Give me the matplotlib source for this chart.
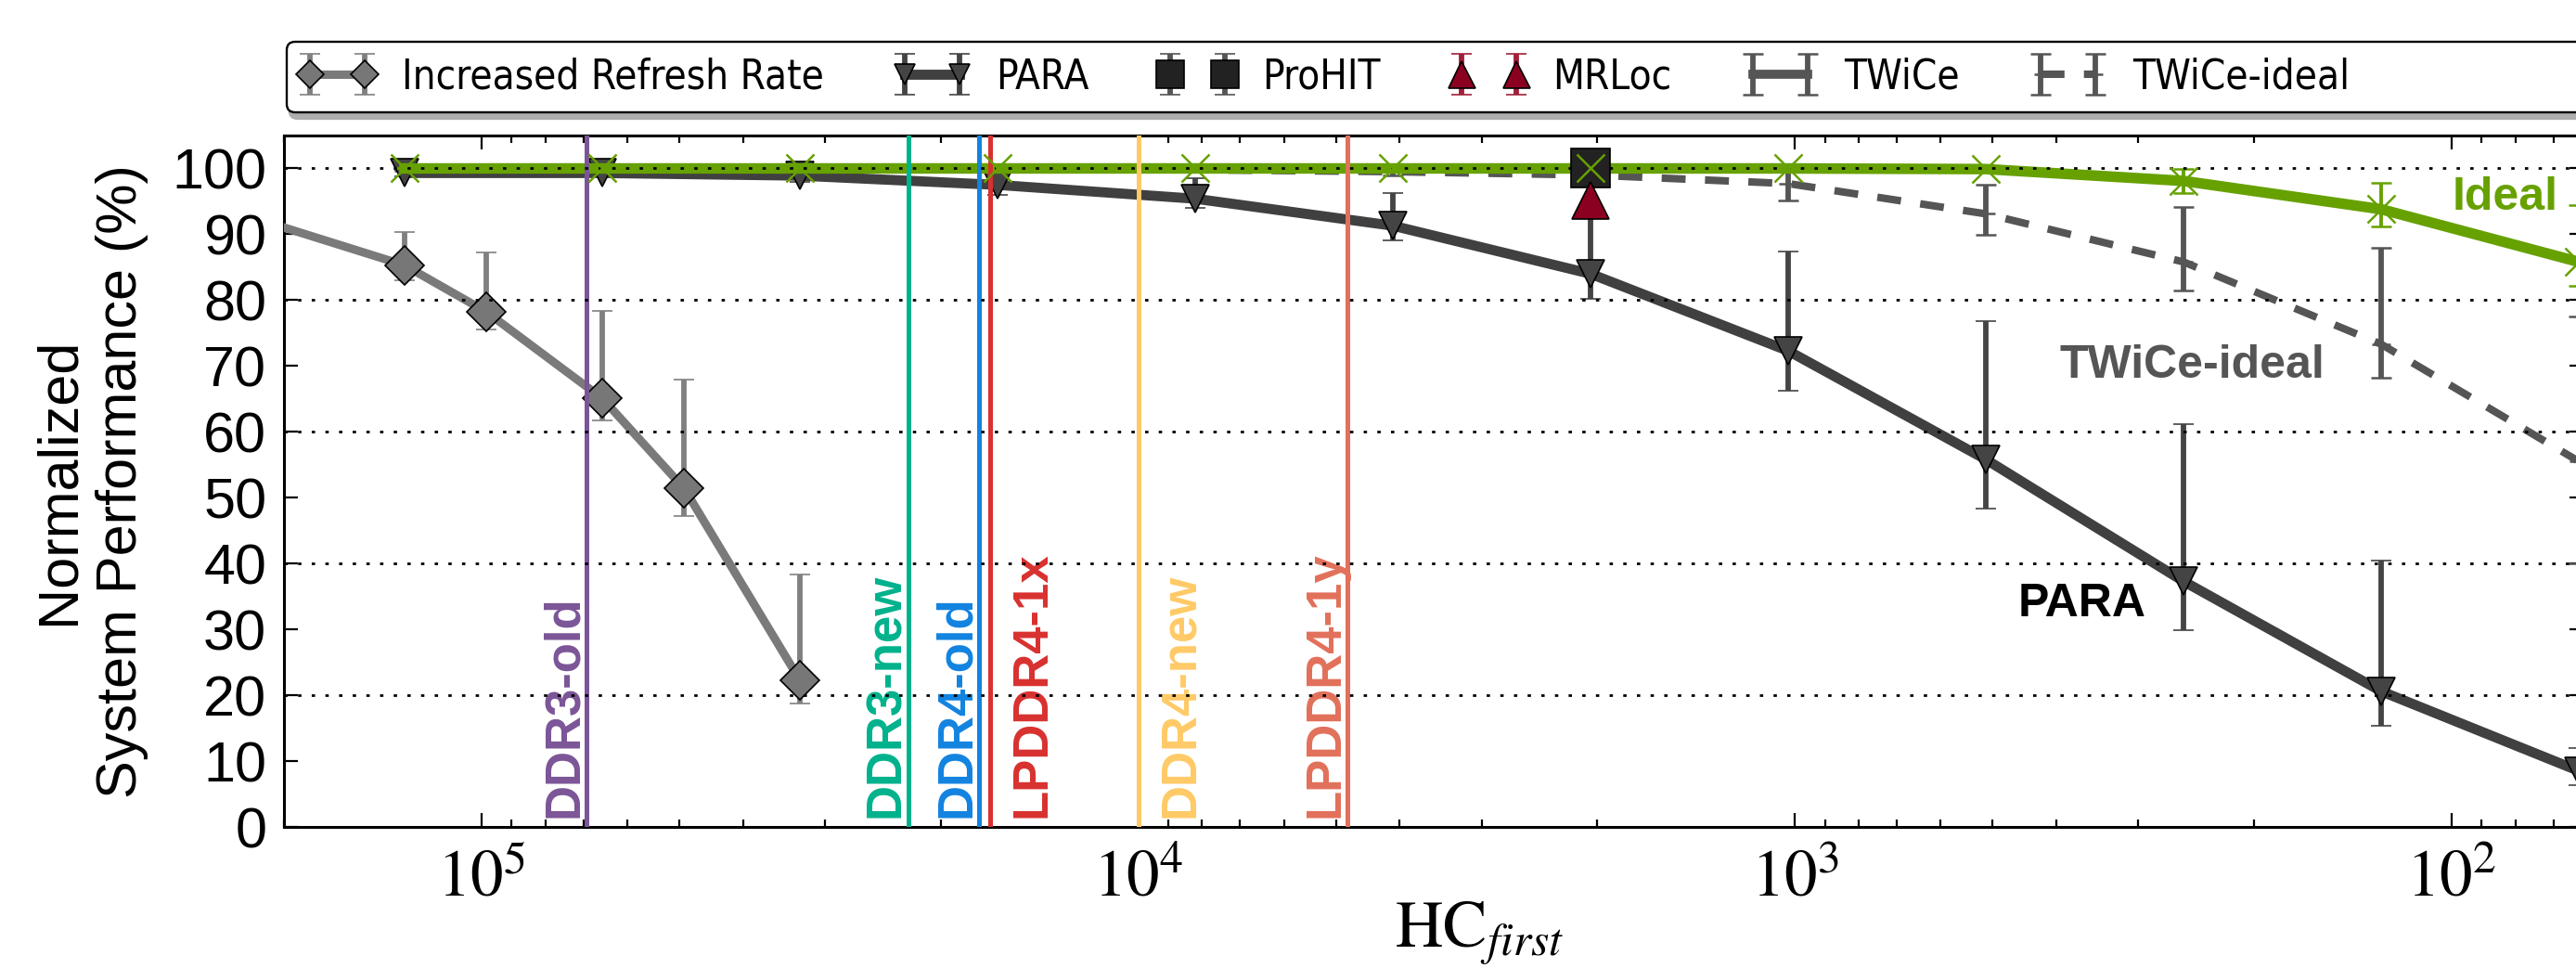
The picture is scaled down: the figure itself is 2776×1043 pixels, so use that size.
import numpy as np
import matplotlib
matplotlib.use('Agg')
import matplotlib.pyplot as plt
from matplotlib import font_manager
from matplotlib.font_manager import FontProperties
from matplotlib.patches import FancyBboxPatch, Shadow
from matplotlib.transforms import IdentityTransform
from matplotlib.ticker import FixedLocator, FuncFormatter, NullFormatter, LogLocator

# HC_first values on the x axis
hc = [131072, 65536, 32768, 16384, 8192, 4096, 2048, 1024, 512, 256, 128, 64]

# increased refresh rate
irr_x = [262144, 131072, 98304, 65536, 49152, 32768]
irr_y = [94.7, 85.3, 78.2, 65.1, 51.4, 22.3]
irr_hi = [97.0, 90.4, 87.3, 78.4, 67.9, 38.3]
irr_lo = [92.5, 83.0, 75.6, 61.7, 47.2, 18.7]

# PARA
para_y = [99.3, 99.3, 98.9, 97.5, 95.4, 91.3, 84.0, 72.3, 55.8, 37.3, 20.6, 8.5]
para_hi = [99.8, 99.8, 100.2, 99.0, 98.5, 96.3, 94.0, 87.4, 76.8, 61.1, 40.4, 12.0]
para_lo = [98.8, 98.8, 98.0, 96.0, 94.0, 89.1, 80.2, 66.2, 48.3, 29.9, 15.4, 6.3]

# ideal (no mitigation)
ideal_y = [100, 100, 100, 100, 100, 100, 100, 100, 99.9, 98.1, 93.8, 85.8]
ideal_hi = [100, 100, 100, 100, 100, 100, 100, 100, 100.2, 99.9, 97.8, 94.5]
ideal_lo = [100, 100, 100, 100, 100, 100, 100, 100, 99.5, 96.2, 91.2, 82.1]

# TWiCe
twice_x = [131072, 65536, 32768, 16384, 8192, 4096, 2048]
twice_y = [100, 100, 100, 100, 100, 100, 100]
twice_hi = [100, 100, 100, 100, 100, 100, 100]
twice_lo = [100, 100, 100, 100, 100, 99.6, 98.0]

# TWiCe-ideal
twid_y = [99.8, 99.8, 99.8, 99.8, 99.8, 99.5, 99.0, 97.7, 93.1, 85.8, 73.3, 55.5]
twid_hi = [100, 100, 100, 100, 100, 100, 99.9, 99.9, 97.6, 94.1, 88.0, 77.5]
twid_lo = [99.6, 99.6, 99.6, 99.6, 99.6, 99.0, 98.5, 95.1, 89.9, 81.4, 68.2, 40.0]

# ProHIT / MRLoc (single point)
prohit_x, prohit_y, prohit_hi, prohit_lo = [2048], [100.0], [100.4], [99.6]
mrloc_x, mrloc_y, mrloc_hi, mrloc_lo = [2048], [95.1], [97.6], [93.0]

# HC_first of the chip types
chips = ['DDR3-old', 'DDR3-new', 'DDR4-old', 'LPDDR4-1x', 'DDR4-new', 'LPDDR4-1y']
chip_hc = [69200, 22400, 17500, 16800, 10000, 4800]
chip_colors = ['#7b5597', '#00b28c', '#1283e0', '#d8312f', '#ffca66', '#e2705a']
label_right = [False, False, False, True, True, False]


def err(y, lo, hi):
    y = np.asarray(y, float)
    return [y - np.asarray(lo), np.asarray(hi) - y]


# fonts
fonts = font_manager.fontManager.ttflist
names = {f.name for f in fonts}
narrow = 'Liberation Sans Narrow' if 'Liberation Sans Narrow' in names else 'Liberation Sans'
if 'DejaVu Sans Condensed' in names:
    leg_font = FontProperties(family='DejaVu Sans Condensed', size=31.5)
elif any(f.name == 'DejaVu Sans' and f.stretch == 'condensed' for f in fonts):
    leg_font = FontProperties(family='DejaVu Sans', stretch='condensed', size=31.5)
else:
    leg_font = FontProperties(family=narrow, size=34)
is_narrow = narrow.endswith('Narrow')
bold = FontProperties(family=narrow, weight='bold', size=43 if is_narrow else 36)
chip_font = FontProperties(family=narrow, weight='bold', size=45.5 if is_narrow else 38)

plt.rcParams['font.family'] = ['Liberation Sans', 'DejaVu Sans']
plt.rcParams['mathtext.fontset'] = 'stix'
plt.rcParams['axes.linewidth'] = 2.2

W, H = 2776, 1043
fig = plt.figure(figsize=(W / 100, H / 100), dpi=100)
ax = fig.add_axes([306 / W, (H - 891) / H, (2784 - 306) / W, (891 - 146) / H])

ekw = dict(capsize=8, capthick=1.8, elinewidth=4.2)

irr = ax.errorbar(irr_x, irr_y, yerr=err(irr_y, irr_lo, irr_hi), fmt='-D', color='#7a7a7a',
                  lw=6.5, ms=21, mfc='#777777', mec='black', mew=1.2, ecolor='#808080',
                  label='Increased Refresh Rate', zorder=3, **ekw)
para = ax.errorbar(hc, para_y, yerr=err(para_y, para_lo, para_hi), fmt='-v', color='#404040',
                   lw=7.8, ms=22, mfc='#444444', mec='black', mew=1.2, ecolor='#444444',
                   label='PARA', zorder=3, **ekw)
twice = ax.errorbar(twice_x, twice_y, yerr=err(twice_y, twice_lo, twice_hi), fmt='-',
                    color='#555555', lw=7, ecolor='#555555', label='TWiCe', zorder=2.5, **ekw)
twid = ax.errorbar(hc, twid_y, yerr=err(twid_y, twid_lo, twid_hi), fmt='--_', color='#555555',
                   lw=5.8, ms=15, mew=1.8, ecolor='#555555', dashes=(3.2, 2.6),
                   label='TWiCe-ideal', zorder=2.6, **ekw)
ax.errorbar(hc, ideal_y, yerr=err(ideal_y, ideal_lo, ideal_hi), fmt='-', color='#66a100',
            lw=8.2, ecolor='#66a100', capsize=8, capthick=1.8, elinewidth=2.8, zorder=5)
prohit = ax.errorbar(prohit_x, prohit_y, yerr=err(prohit_y, prohit_lo, prohit_hi), fmt='s',
                     color='#222222', ms=30, mec='black', mew=1.2, ecolor='#555555',
                     label='ProHIT', zorder=6, **ekw)
mrloc = ax.errorbar(mrloc_x, mrloc_y, yerr=err(mrloc_y, mrloc_lo, mrloc_hi), fmt='^',
                    color='#8b0021', ms=29, mec='black', mew=1.2, ecolor='#a0203a',
                    label='MRLoc', zorder=6, **ekw)
ax.plot(hc, ideal_y, 'x', color='#66a100', ms=22, mew=1.8, zorder=7)

# dotted grid on top of the lines
for v in [20, 40, 60, 80, 100]:
    ax.axhline(v, color='black', lw=2.0, ls=(0, (1.3, 4.0)), zorder=5.5)

# chip HC_first markers
for name, xv, col, right in zip(chips, chip_hc, chip_colors, label_right):
    ax.axvline(xv, color=col, lw=3.6, zorder=5.2)
    ax.annotate(name, (xv, 1.4), xytext=(43 if right else -7, 0), textcoords='offset points',
                rotation=90, rotation_mode='anchor', ha='left', va='baseline',
                color=col, fontproperties=chip_font, zorder=3)

ax.text(365, 33.8, 'PARA', color='black', ha='center', va='center', fontproperties=bold)
ax.text(248, 70.1, 'TWiCe-ideal', color='#555555', ha='center', va='center', fontproperties=bold)
ax.text(82.8, 95.5, 'Ideal', color='#66a100', ha='center', va='center', fontproperties=bold)

ax.set_xscale('log')
ax.set_xlim(2e5, 63)
ax.set_ylim(0, 105)
ax.xaxis.set_major_locator(FixedLocator([1e5, 1e4, 1e3, 1e2]))
ax.xaxis.set_major_formatter(FuncFormatter(lambda v, p: r'$10^{%d}$' % round(np.log10(v))))
ax.xaxis.set_minor_locator(LogLocator(base=10, subs=np.arange(2, 10)))
ax.xaxis.set_minor_formatter(NullFormatter())
ax.set_yticks(range(0, 101, 10))
ax.tick_params(which='both', direction='in', top=True, right=True, width=1.6)
ax.tick_params(which='major', length=11)
ax.tick_params(which='minor', length=5.5)
ax.tick_params(axis='x', pad=17, labelsize=51)
ax.tick_params(axis='y', pad=13.5, labelsize=44)

ax.set_ylabel('Normalized\nSystem Performance (%)', fontsize=44, linespacing=1.25)
ax.yaxis.set_label_coords(-0.0589, 0.5)
ax.set_xlabel(r'$\mathrm{HC}_{first}$', fontsize=51)
ax.xaxis.set_label_coords(0.52, -0.106)

# legend above the plot, frame drawn separately so it spans the full width
frame = FancyBboxPatch((309, H - 121), 2800 - 309, 76, boxstyle='round,pad=0,rounding_size=9',
                       transform=IdentityTransform(), fc='white', ec='black', lw=1.7, zorder=1)
shadow = Shadow(frame, 2, -5, facecolor='0.68', edgecolor='0.68', alpha=1)
shadow.set_zorder(0.9)
fig.add_artist(shadow)
fig.add_artist(frame)
fig.legend([irr, para, prohit, mrloc, twice, twid],
           ['Increased Refresh Rate', 'PARA', 'ProHIT', 'MRLoc', 'TWiCe', 'TWiCe-ideal'],
           loc='center left', bbox_to_anchor=(321 / W, 1 - 83 / H), ncol=6, frameon=False,
           numpoints=2, markerscale=0.72, handlelength=1.95, handletextpad=0.6,
           columnspacing=1.7, borderpad=0, borderaxespad=0, prop=leg_font)

fig.savefig('out.png', dpi=100)
